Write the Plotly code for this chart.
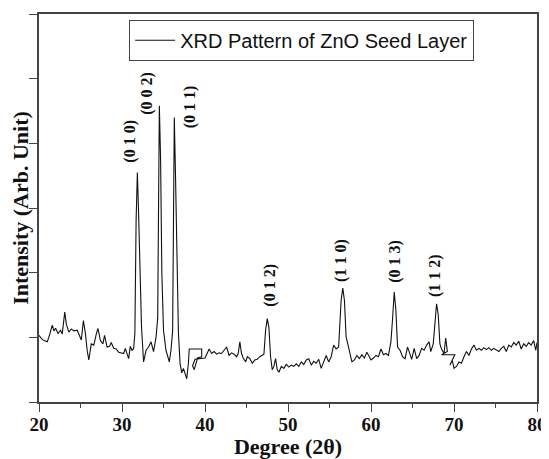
import plotly.graph_objects as go

two_theta = [
    20.0, 20.3, 20.6, 21.0, 21.3, 21.6, 21.8, 22.0, 22.3, 22.6, 22.8, 23.1, 23.3, 23.6, 23.9,
    24.2, 24.6, 24.9, 25.1, 25.35, 25.6, 25.8, 26.0, 26.3, 26.6, 26.9, 27.1, 27.4, 27.7, 27.9,
    28.2, 28.5, 28.7, 29.0, 29.3, 29.6, 29.9, 30.2, 30.4, 30.6, 30.8, 31.0, 31.2, 31.4, 31.55,
    31.7, 31.85, 32.0, 32.2, 32.35, 32.6, 32.9, 33.2, 33.5, 33.8, 34.1, 34.3, 34.4, 34.5, 34.65,
    34.8, 35.0, 35.3, 35.7, 35.9, 36.1, 36.2, 36.3, 36.45, 36.6, 36.8, 37.0, 37.2, 37.4, 37.6,
    37.8, 38.0, 38.1, 39.6, 39.6, 39.1, 38.7, 38.5, 38.8, 40.0, 40.3,
    40.5, 40.8, 41.1, 41.4, 41.7, 42.0, 42.3, 42.6, 42.9, 43.2, 43.5, 43.8, 44.0, 44.2, 44.4,
    44.6, 44.9, 45.1, 45.4, 45.7, 46.0, 46.3, 46.6, 46.9, 47.1, 47.3, 47.5, 47.7, 47.9, 48.1,
    48.3, 48.5, 48.7, 48.9, 49.2, 49.5, 49.8, 50.1, 50.4, 50.7, 51.0, 51.3, 51.6, 51.9, 52.2,
    52.5, 52.8, 53.1, 53.4, 53.7, 54.0, 54.3, 54.6, 54.9, 55.2, 55.5, 55.8, 56.1, 56.4, 56.6,
    56.8, 57.0, 57.2, 57.5, 57.7, 58.0, 58.3, 58.6, 58.9, 59.2, 59.5, 59.8, 60.0, 60.3, 60.6,
    60.9, 61.2, 61.5, 61.8, 62.1, 62.4, 62.6, 62.8, 63.0, 63.2, 63.5, 63.8, 64.1, 64.4, 64.6,
    64.9, 65.2, 65.5, 65.8, 66.1, 66.4, 66.7, 67.0, 67.2, 67.5, 67.7, 67.9, 68.1, 68.3, 68.5,
    68.8, 69.0, 69.2, 68.5, 70.1, 69.5, 69.8, 70.0, 70.3, 70.6, 70.9, 71.2, 71.5, 71.8, 72.1,
    72.4, 72.7, 73.0, 73.3, 73.6, 73.9, 74.2, 74.5, 74.8, 75.1, 75.4, 75.7, 76.0, 76.3, 76.6,
    76.9, 77.2, 77.5, 77.8, 78.1, 78.4, 78.7, 79.0, 79.3, 79.6, 79.85, 80.0,
]
intensity = [
    1.03, 0.98, 0.95, 0.93, 1.05, 1.19, 1.10, 1.14, 1.06, 1.11, 1.05, 1.39, 1.20, 1.08, 1.13,
    1.10, 1.11, 1.02, 0.96, 1.26, 1.05, 0.80, 0.65, 0.90, 0.88, 1.05, 1.14, 0.95, 0.90, 1.03,
    0.85, 0.86, 0.92, 0.83, 0.82, 0.77, 0.76, 0.75, 0.83, 0.74, 0.67, 0.86, 0.80, 0.82, 1.06,
    2.81, 3.55, 2.92, 1.60, 1.16, 0.62, 0.80, 0.85, 0.93, 0.78, 1.00, 1.30, 3.74, 4.58, 3.74,
    2.00, 1.11, 0.80, 0.62, 0.80, 1.10, 3.43, 4.40, 3.48, 2.20, 1.06, 0.59, 0.45, 0.52, 0.45,
    0.36, 0.60, 0.82, 0.82, 0.70, 0.68, 0.50, 0.56, 0.66, 0.68, 0.75,
    0.82, 0.75, 0.78, 0.74, 0.76, 0.75, 0.80, 0.85, 0.72, 0.76, 0.74, 0.70, 0.75, 0.93, 0.75,
    0.68, 0.62, 0.70, 0.67, 0.60, 0.65, 0.66, 0.70, 0.72, 0.74, 1.11, 1.29, 1.15, 0.70, 0.50,
    0.55, 0.67, 0.50, 0.46, 0.55, 0.52, 0.58, 0.54, 0.57, 0.55, 0.59, 0.55, 0.62, 0.58, 0.65,
    0.67, 0.57, 0.63, 0.60, 0.66, 0.52, 0.62, 0.72, 0.62, 0.70, 0.88, 0.82, 0.85, 1.57, 1.76,
    1.57, 1.01, 0.90, 0.75, 0.62, 0.65, 0.72, 0.67, 0.73, 0.68, 0.77, 0.70, 0.65, 0.68, 0.72,
    0.70, 0.82, 0.73, 0.75, 0.72, 0.93, 1.29, 1.70, 1.42, 0.85, 0.80, 0.70, 0.67, 0.85, 0.78,
    0.66, 0.83, 0.67, 0.72, 0.83, 0.80, 0.88, 0.93, 0.78, 0.90, 1.20, 1.52, 1.35, 0.90, 0.82,
    0.75, 0.99, 0.78, 0.73, 0.73, 0.57, 0.64, 0.52, 0.55, 0.62, 0.60, 0.70, 0.78, 0.72, 0.82,
    0.88, 0.80, 0.83, 0.80, 0.84, 0.81, 0.84, 0.80, 0.83, 0.81, 0.78, 0.83, 0.86, 0.78, 0.88,
    0.85, 0.92, 0.88, 0.94, 0.82, 0.90, 0.86, 0.92, 0.88, 0.95, 0.80, 0.92,
]

# Miller-index labels and their positions (data coords)
peak_labels = ["(0 1 0)", "(0 0 2)", "(0 1 1)", "(0 1 2)", "(1 1 0)", "(0 1 3)", "(1 1 2)"]
label_x = [31.0, 33.0, 38.3, 47.8, 56.45, 62.9, 67.8]
label_y = [4.03, 4.78, 4.57, 1.81, 2.19, 2.17, 1.96]

x_ticks = [20, 30, 40, 50, 60, 70, 80]

serif = "Liberation Serif, Times New Roman, serif"

fig = go.Figure()
fig.add_trace(go.Scatter(
    x=two_theta, y=intensity, mode="lines",
    line=dict(color="#111111", width=1.1),
    name="XRD Pattern of ZnO Seed Layer",
))

for t, lx, ly in zip(peak_labels, label_x, label_y):
    fig.add_annotation(x=lx, y=ly, text="<b>" + t + "</b>", textangle=-90,
                       showarrow=False, font=dict(family=serif, size=16, color="#111"))

# the page body has an 8px default margin, so the figure is 8px smaller than the window
fig.update_layout(
    width=541, height=451,
    margin=dict(l=31, r=12, t=6, b=57),
    plot_bgcolor="white", paper_bgcolor="white",
    showlegend=True,
    legend=dict(x=0.181, y=0.985, xanchor="left", yanchor="top",
                bgcolor="white", bordercolor="#444", borderwidth=1,
                font=dict(family="Liberation Sans, Arial, sans-serif", size=20, color="#111"),
                itemwidth=40, tracegroupgap=0),
    xaxis=dict(
        range=[20, 80], tickvals=x_ticks, ticktext=["<b>" + str(v) + "</b>" for v in x_ticks],
        ticks="outside", ticklen=8, tickwidth=1, tickcolor="#444",
        ticklabelstandoff=-4,
        minor=dict(dtick=5, ticks="outside", ticklen=4, tickcolor="#444", showgrid=False),
        showline=True, linecolor="#444", linewidth=1.5, mirror=True,
        showgrid=False, zeroline=False,
        tickfont=dict(family=serif, size=19, color="#111"),
        title=dict(text="<b>Degree (2θ)</b>", font=dict(family=serif, size=22, color="#111"),
                   standoff=0),
        automargin=False,
    ),
    yaxis=dict(
        range=[0, 6], dtick=1, showticklabels=False,
        ticks="outside", ticklen=8, tickwidth=1, tickcolor="#444",
        showline=True, linecolor="#444", linewidth=1.5, mirror=True,
        showgrid=False, zeroline=False,
        title=dict(text="<b>Intensity (Arb. Unit)</b>", font=dict(family=serif, size=22, color="#111"),
                   standoff=0),
        automargin=False,
    ),
)

fig.write_html("out.html")
